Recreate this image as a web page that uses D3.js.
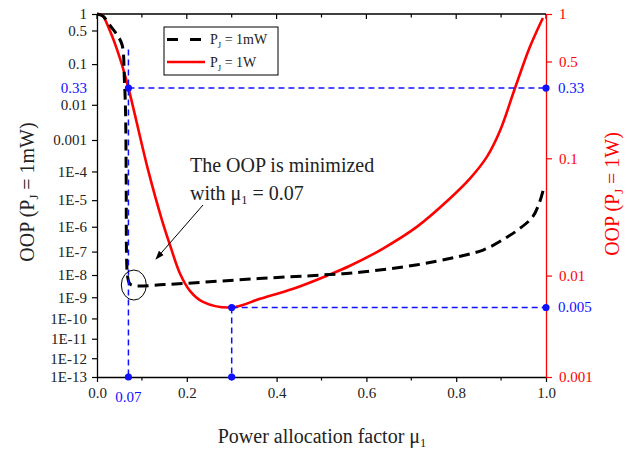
<!DOCTYPE html>
<html>
<head>
<meta charset="utf-8">
<script src="https://cdn.jsdelivr.net/npm/d3@7"></script>
<style>
  body { margin: 0; background: #fff; }
  text { font-family: "Liberation Serif", "DejaVu Serif", serif; }
</style>
</head>
<body>
<svg id="chart" width="627" height="449"></svg>
<script>

// data
var muValues = [0, 0.013, 0.03, 0.045, 0.056, 0.061, 0.0635, 0.065, 0.066, 0.068, 0.072, 0.08, 0.15, 0.36, 0.5, 0.59, 0.71, 0.8, 0.86, 0.91, 0.94, 0.97, 0.985, 0.995];
var oopMilliWatt = [1, 0.92, 0.607, 0.409, 0.2575, 0.0425, 0.00724, 5.1e-5, 4.4e-8, 9.0e-9, 4.4e-9, 3.41e-9, 3.78e-9, 6.99e-9, 9.97e-9, 1.35e-8, 2.71e-8, 5.9e-8, 1.16e-7, 3.57e-7, 8.13e-7, 2.36e-6, 7.86e-6, 2.71e-5];

var muValuesW = [0, 0.011, 0.029, 0.051, 0.07, 0.114, 0.145, 0.163, 0.185, 0.207, 0.236, 0.30, 0.363, 0.437, 0.512, 0.5635, 0.637, 0.713, 0.786, 0.831, 0.869, 0.898, 0.931, 0.964, 0.993];
var oopWatt = [1, 0.986, 0.786, 0.526, 0.33, 0.0802, 0.0309, 0.0187, 0.0104, 0.00721, 0.00566, 0.005, 0.00605, 0.00753, 0.00997, 0.0123, 0.0176, 0.0274, 0.0474, 0.0692, 0.1034, 0.1636, 0.33, 0.621, 0.946];

var xTicks = [0, 0.2, 0.4, 0.6, 0.8, 1.0];
var xMinorTicks = [0.1, 0.3, 0.5, 0.7, 0.9];
var leftTicks = [1, 0.5, 0.1, 0.01, 1e-3, 1e-4, 1e-5, 1e-6, 1e-7, 1e-8, 1e-9, 1e-10, 1e-11, 1e-12, 1e-13];
var leftLabels = ["1", "0.5", "0.1", "0.01", "0.001", "1E-4", "1E-5", "1E-6", "1E-7", "1E-8", "1E-9", "1E-10", "1E-11", "1E-12", "1E-13"];
var rightTicks = [1, 0.5, 0.1, 0.01, 0.001];
var rightLabels = ["1", "0.5", "0.1", "0.01", "0.001"];

// markers: optimum mu and OOP for 1W
var markMu = [0.07, 0.3];
var markOop = [0.33, 0.005];
var markLabels = ["0.33", "0.005"];

(function(){

var plotLeft = 97, plotRight = 546, plotTop = 14, plotBottom = 377;
var blue = "#1010ff", red = "#ff0000";

var svg = d3.select("#chart");

// the y axes use a square-root of log scale
function sqrtLogScale(lo, range) {
  var inner = d3.scalePow().exponent(0.5)
    .domain([1.5, 1.5 - Math.log10(lo)]).range(range);
  var f = function(v) { return inner(1.5 - Math.log10(v)); };
  f.domain = function() { return [1, lo]; };
  f.range = function() { return inner.range(); };
  f.copy = function() { return sqrtLogScale(lo, range); };
  return f;
}

var x = d3.scaleLinear().domain([0, 1]).range([plotLeft, plotRight]);
var yL = sqrtLogScale(1e-13, [plotTop, plotBottom]);
var yR = sqrtLogScale(1e-3, [plotTop, plotBottom]);

// top frame line with inward ticks
svg.append("line").attr("x1", plotLeft).attr("x2", plotRight).attr("y1", plotTop).attr("y2", plotTop)
  .attr("stroke", "#000").attr("stroke-width", 1.3);
svg.selectAll(".ttick").data(xTicks.concat(xMinorTicks)).enter().append("line")
  .attr("x1", function(d){ return x(d); }).attr("x2", function(d){ return x(d); })
  .attr("y1", plotTop).attr("y2", function(d){ return plotTop + (xTicks.indexOf(d) >= 0 ? 5 : 3.5); })
  .attr("stroke", "#000").attr("stroke-width", 1.2);

// curves
var lineMw = d3.line()
  .x(function(d, i){ return x(muValues[i]); })
  .y(function(d){ return yL(d); })
  .curve(d3.curveCatmullRom.alpha(0.5));
var lineW = d3.line()
  .x(function(d, i){ return x(muValuesW[i]); })
  .y(function(d){ return yR(d); })
  .curve(d3.curveCatmullRom.alpha(0.5));

svg.append("path").datum(oopWatt).attr("d", lineW)
  .attr("fill", "none").attr("stroke", red).attr("stroke-width", 2.6);
svg.append("path").datum(oopMilliWatt).attr("d", lineMw)
  .attr("fill", "none").attr("stroke", "#000").attr("stroke-width", 3)
  .attr("stroke-dasharray", "11,6");

// blue guide lines
var g = svg.append("g").attr("stroke", blue).attr("stroke-width", 1.5).attr("stroke-dasharray", "6,4");
g.append("line").attr("x1", x(markMu[0])).attr("x2", x(markMu[0])).attr("y1", yR(0.6)).attr("y2", plotBottom);
g.append("line").attr("x1", x(markMu[0])).attr("x2", x(1)).attr("y1", yR(markOop[0])).attr("y2", yR(markOop[0]));
g.append("line").attr("x1", x(markMu[1])).attr("x2", x(markMu[1])).attr("y1", yR(markOop[1])).attr("y2", plotBottom);
g.append("line").attr("x1", x(markMu[1])).attr("x2", x(1)).attr("y1", yR(markOop[1])).attr("y2", yR(markOop[1]));

var dots = [];
markMu.forEach(function(m, i){
  dots.push([x(m), yR(markOop[i])], [x(1), yR(markOop[i])], [x(m), plotBottom]);
});

// bottom axis
var xAxis = d3.axisBottom(x).tickValues(xTicks).tickFormat(d3.format(".1f")).tickSize(5).tickSizeOuter(0).tickPadding(5);
var gx = svg.append("g").attr("transform", "translate(0," + plotBottom + ")").call(xAxis);
gx.selectAll(".minor").data(xMinorTicks).enter().append("line")
  .attr("x1", function(d){ return x(d); }).attr("x2", function(d){ return x(d); })
  .attr("y1", 0).attr("y2", 3.5).attr("stroke", "#000").attr("stroke-width", 1.2);
gx.append("text").attr("x", x(markMu[0])).attr("y", 25).attr("text-anchor", "middle")
  .attr("fill", blue).style("font-size", "15px").text("0.07");

// left axis
var yAxisL = d3.axisLeft(yL).tickValues(leftTicks)
  .tickFormat(function(d, i){ return leftLabels[i]; }).tickSize(5).tickSizeOuter(0).tickPadding(5);
var gl = svg.append("g").attr("transform", "translate(" + plotLeft + ",0)").call(yAxisL);
gl.append("text").attr("x", -10).attr("y", yR(markOop[0])).attr("dy", "0.32em")
  .attr("text-anchor", "end").attr("fill", blue).style("font-size", "15px").text(markLabels[0]);

// right axis
var yAxisR = d3.axisRight(yR).tickValues(rightTicks)
  .tickFormat(function(d, i){ return rightLabels[i]; }).tickSize(6).tickSizeOuter(0).tickPadding(7);
var gr = svg.append("g").attr("transform", "translate(" + plotRight + ",0)").call(yAxisR);
gr.selectAll("path, line").attr("stroke", red);
gr.selectAll("text").attr("fill", red);
markLabels.forEach(function(lbl, i){
  gr.append("text").attr("x", 12).attr("y", yR(markOop[i])).attr("dy", "0.32em")
    .attr("fill", blue).style("font-size", "15px").text(lbl);
});

[gx, gl, gr].forEach(function(a){
  a.selectAll(".tick text").style("font-size", "15px");
  a.select(".domain").attr("stroke-width", 1.3);
  a.selectAll(".tick line").attr("stroke-width", 1.2);
});
gx.selectAll(".tick text").attr("fill", "#222");
gl.selectAll(".tick text").attr("fill", "#222");

svg.selectAll(".dot").data(dots).enter().append("circle").attr("class", "dot")
  .attr("cx", function(d){ return d[0]; }).attr("cy", function(d){ return d[1]; })
  .attr("r", 3.6).attr("fill", blue);

// axis titles
function subText(sel, pre, sub, post) {
  sel.append("tspan").text(pre);
  sel.append("tspan").attr("dy", 4).style("font-size", "0.62em").text(sub);
  sel.append("tspan").attr("dy", -4).text(post);
}
subText(svg.append("text").attr("transform", "translate(34,192) rotate(-90)")
  .attr("text-anchor", "middle").attr("fill", "#222").style("font-size", "20px"), "OOP (P", "J", " = 1mW)");
subText(svg.append("text").attr("transform", "translate(619,194) rotate(-90)")
  .attr("text-anchor", "middle").attr("fill", red).style("font-size", "20px"), "OOP (P", "J", " = 1W)");
subText(svg.append("text").attr("x", 322).attr("y", 443)
  .attr("text-anchor", "middle").attr("fill", "#222").style("font-size", "20px"), "Power allocation factor μ", "1", "");

// legend
var lg = svg.append("g");
lg.append("rect").attr("x", 164).attr("y", 27).attr("width", 114).attr("height", 48)
  .attr("fill", "#fff").attr("stroke", "#000").attr("stroke-width", 1);
lg.append("line").attr("x1", 167).attr("x2", 204).attr("y1", 39.5).attr("y2", 39.5)
  .attr("stroke", "#000").attr("stroke-width", 3).attr("stroke-dasharray", "11,12");
lg.append("line").attr("x1", 167).attr("x2", 205).attr("y1", 62).attr("y2", 62)
  .attr("stroke", red).attr("stroke-width", 2.6);
subText(lg.append("text").attr("x", 210).attr("y", 44).attr("fill", "#222").style("font-size", "14px"), "P", "J", " = 1mW");
subText(lg.append("text").attr("x", 210).attr("y", 67).attr("fill", "#222").style("font-size", "14px"), "P", "J", " = 1W");

// annotation
svg.append("defs").append("marker").attr("id", "arrow").attr("viewBox", "0 0 10 10")
  .attr("refX", 9).attr("refY", 5).attr("markerWidth", 9).attr("markerHeight", 9)
  .attr("orient", "auto").attr("markerUnits", "userSpaceOnUse")
  .append("path").attr("d", "M0,1.5 L10,5 L0,8.5 Z").attr("fill", "#000");
svg.append("line").attr("x1", 203).attr("y1", 205).attr("x2", 156).attr("y2", 259)
  .attr("stroke", "#000").attr("stroke-width", 1).attr("marker-end", "url(#arrow)");
svg.append("ellipse").attr("cx", x(0.082)).attr("cy", yL(3.6e-9)).attr("rx", 12.5).attr("ry", 15)
  .attr("fill", "none").attr("stroke", "#000").attr("stroke-width", 1);
svg.append("text").attr("x", 190).attr("y", 172).attr("fill", "#222").style("font-size", "20px")
  .text("The OOP is minimized");
subText(svg.append("text").attr("x", 190).attr("y", 200).attr("fill", "#222").style("font-size", "20px"),
  "with μ", "1", " = 0.07");

})();
</script>
</body>
</html>
